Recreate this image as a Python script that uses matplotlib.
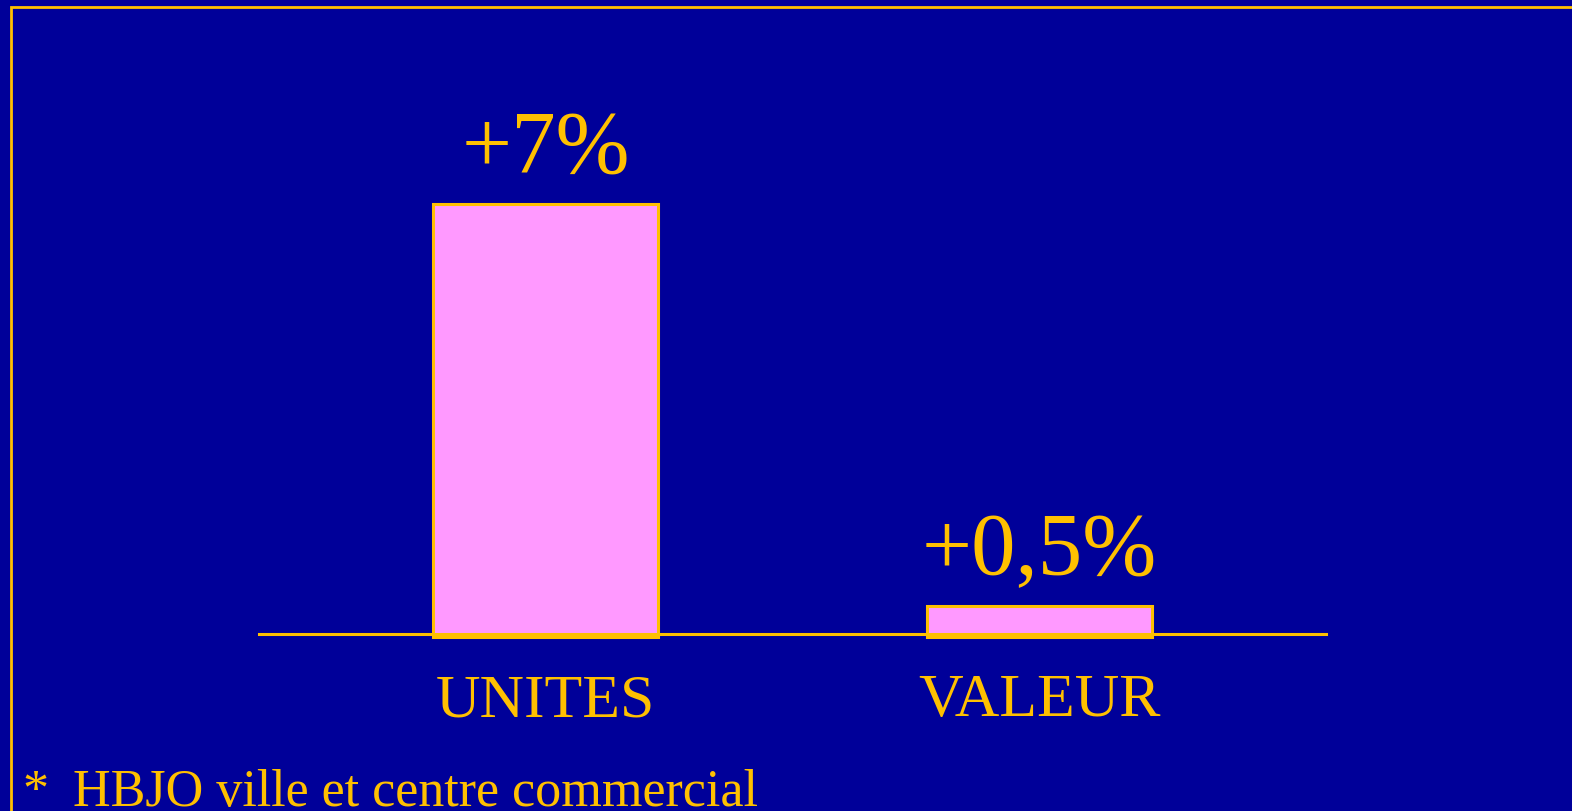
import matplotlib.pyplot as plt
from matplotlib.patches import Rectangle

categories = ["UNITES", "VALEUR"]
values = [7, 0.5]
value_labels = ["+7%", "+0,5%"]
footnote = "HBJO ville et centre commercial"

BG = "#000099"
GOLD = "#FFC000"
PINK = "#FF99FF"


def main():
    plt.rcParams['font.family'] = ['Liberation Serif', 'DejaVu Serif']

    fig = plt.figure(figsize=(15.72, 8.11), dpi=100, facecolor=BG)
    W, H = 1572, 811

    # axes placed in pixels: x 259..1326, baseline at y=637, top at y=80
    ax = fig.add_axes([259 / W, (H - 637) / H, (1326 - 259) / W, (637 - 80) / H])
    ax.set_facecolor(BG)
    ax.set_xlim(-0.58, 1.58)
    ax.set_ylim(0, 9)

    xs = range(len(categories))
    ax.bar(xs, values, width=0.455, color=PINK, edgecolor=GOLD, linewidth=2.2,
           zorder=2, clip_on=False)
    ax.axhline(0.05, color=GOLD, linewidth=2.2, zorder=3, clip_on=False)

    for x, v, lab, cat in zip(xs, values, value_labels, categories):
        ax.annotate(lab, (x, v), xytext=(0, 23), textcoords='offset points',
                    ha='center', va='baseline', fontsize=64, color=GOLD)
        ax.annotate(cat, (x, 0), xytext=(0, -57), textcoords='offset points',
                    ha='center', va='baseline', fontsize=44.5, color=GOLD)

    for s in ax.spines.values():
        s.set_visible(False)
    ax.set_xticks([])
    ax.set_yticks([])

    # frame, open beyond right and bottom edges
    fig.patches.append(Rectangle((10.5 / W, -0.1), 1.2, 1 - 6.5 / H + 0.1,
                                 transform=fig.transFigure, fill=False,
                                 edgecolor=GOLD, linewidth=2.0))

    fig.text(22 / W, (H - 806) / H, "*", fontsize=37.5, color=GOLD, va='baseline')
    fig.text(73 / W, (H - 806) / H, footnote, fontsize=37.5, color=GOLD, va='baseline')

    fig.savefig("out.png", facecolor=BG)


if __name__ == "__main__":
    main()
